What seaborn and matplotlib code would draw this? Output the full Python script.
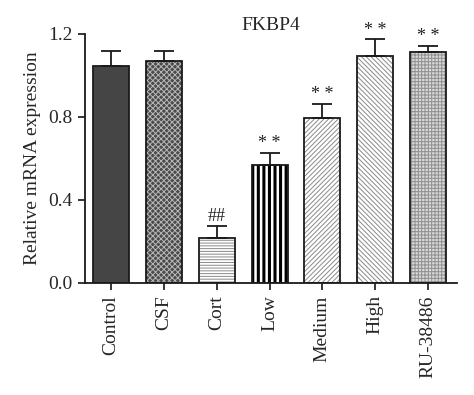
import numpy as np
import pandas as pd
import matplotlib
matplotlib.use("Agg")
import matplotlib.pyplot as plt
import seaborn as sns

# values
groups = ["Control", "CSF", "Cort", "Low", "Medium", "High", "RU-38486"]
means = [1.047, 1.070, 0.215, 0.567, 0.794, 1.094, 1.115]
sem = [0.071, 0.048, 0.060, 0.058, 0.067, 0.080, 0.027]
marks = ["", "", "##", "**", "**", "**", "**"]

# fill, hatch, hatch colour per group
fills = ["#454545", "#4a4a4a", "white", "white", "white", "white", "#d8d8d8"]
hatches = ["", "xxxxxx", "------", "|||", "///////", "\\\\\\\\\\\\\\", "+++++"]
hatch_cols = ["#454545", "#b8b8b8", "#8a8a8a", "black", "#8a8a8a", "#8a8a8a", "#909090"]

sns.set_style("ticks")
plt.rcParams["font.family"] = ["Liberation Serif", "DejaVu Serif"]
plt.rcParams["hatch.linewidth"] = 0.7

df = pd.DataFrame({"group": groups, "value": means})

fig = plt.figure(figsize=(4.74, 3.95), dpi=100)
ax = fig.add_axes([0.179, 0.284, 0.785, 0.630])

# hatched fill layer
sns.barplot(data=df, x="group", y="value", color="white", width=0.68,
            linewidth=0, ax=ax)
for p, fc, h, hc in zip(ax.patches, fills, hatches, hatch_cols):
    p.set_facecolor(fc)
    p.set_edgecolor(hc)
    p.set_linewidth(0)
    p.set_hatch(h)
    if h == "|||" and hasattr(p, "set_hatch_linewidth"):
        p.set_hatch_linewidth(2.2)

# outline layer
n_fill = len(ax.patches)
sns.barplot(data=df, x="group", y="value", fill=False, width=0.68,
            edgecolor="#1a1a1a", linewidth=1.3, ax=ax)
for p in ax.patches[n_fill:]:
    p.set_hatch("")

x = np.arange(len(groups))
ax.errorbar(x, means, yerr=[np.zeros(len(sem)), sem], fmt="none",
            ecolor="#1a1a1a", elinewidth=1.3, capsize=7, capthick=1.3, zorder=1)

for xi, m, s, t in zip(x, means, sem, marks):
    if t:
        label = t if t == "##" else "* *"
        ax.text(xi, m + s + 0.004, label, ha="center", va="bottom",
                fontsize=13, color="#222222")

ax.set_xlim(-0.5, 6.55)
ax.set_ylim(0, 1.2)
ax.set_yticks([0.0, 0.4, 0.8, 1.2])
ax.set_yticklabels(["0.0", "0.4", "0.8", "1.2"])
ax.set_xlabel("")
ax.set_ylabel("Relative mRNA expression", fontsize=14, labelpad=5)
ax.set_title("FKBP4", fontsize=14, pad=3)
ax.tick_params(axis="x", labelrotation=90, labelsize=14, length=5, width=1.3, pad=4)
ax.tick_params(axis="y", labelsize=14, length=5, width=1.3, pad=4)
sns.despine(ax=ax)
for s in ["left", "bottom"]:
    ax.spines[s].set_linewidth(1.3)
    ax.spines[s].set_color("#1a1a1a")

fig.savefig("out.png", dpi=100)
